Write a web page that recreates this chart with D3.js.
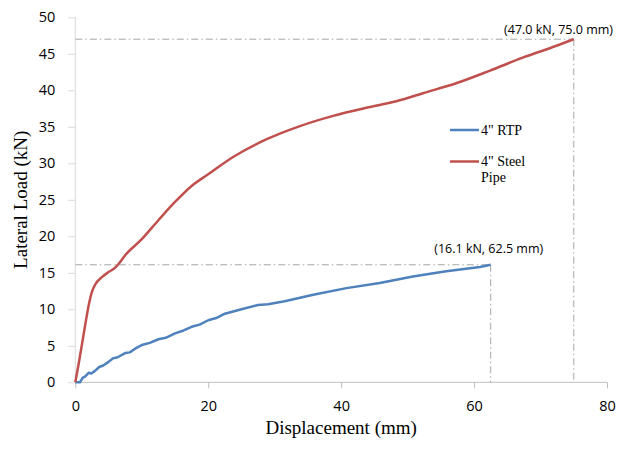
<!DOCTYPE html>
<html>
<head>
<meta charset="utf-8">
<script src="https://cdn.jsdelivr.net/npm/d3@7"></script>
<style>
  body { margin: 0; background: #fff; }
  .tick text { font-family: "Open Sans", sans-serif; font-size: 14.5px; fill: #000; }
</style>
</head>
<body>
<svg id="chart" width="618" height="450"></svg>
<script>
// displacement (mm) / load (kN)
var steelX = [0, 0.5, 1, 1.5, 2, 2.5, 3, 4, 5, 6, 6.5, 7.5, 10, 12.5, 15, 17.5, 20, 23.8, 28.8, 33.8, 38.8, 43.8, 48.3, 52.3, 57.4, 62.4, 67.4, 72.4, 75];
var steelY = [0, 2.5, 5.2, 7.9, 10.5, 12.4, 13.4, 14.4, 15.1, 15.7, 16.2, 17.4, 19.6, 22.2, 24.7, 26.9, 28.5, 30.9, 33.3, 35.1, 36.5, 37.6, 38.5, 39.6, 41.0, 42.7, 44.5, 46.1, 47.0];

var rtpX = [0, 0.7, 1.1, 1.5, 2.0, 2.4, 3.0, 3.6, 4.2, 5.0, 5.7, 6.3, 7.5, 8.2, 9.0, 10, 11.2, 12.5, 13.6, 15, 16.3, 17.5, 18.7, 20, 21.2, 22.5, 25, 27.5, 29, 31.5, 35.8, 40.8, 45.8, 50.8, 55.8, 60.9, 62.5];
var rtpY = [0, 0, 0.6, 0.8, 1.3, 1.2, 1.6, 2.1, 2.3, 2.8, 3.3, 3.4, 4.0, 4.1, 4.6, 5.1, 5.4, 5.9, 6.1, 6.7, 7.1, 7.6, 7.9, 8.5, 8.8, 9.4, 10.0, 10.6, 10.7, 11.1, 12.0, 12.9, 13.6, 14.5, 15.2, 15.8, 16.1];

var xTicks = [0, 20, 40, 60, 80];
var yTicks = [0, 5, 10, 15, 20, 25, 30, 35, 40, 45, 50];
var seriesNames = ['4" RTP', '4" Steel'];
var colors = ["#4f81bd", "#c0504d"];
var markers = [{x: 62.5, y: 16.1, label: "(16.1 kN, 62.5 mm)"}, {x: 75.0, y: 47.0, label: "(47.0 kN, 75.0 mm)"}];

var svg = d3.select("svg#chart");
var margin = {left: 75.3, right: 11, top: 17.3, bottom: 67.7};
var width = +svg.attr("width"), height = +svg.attr("height");

var x = d3.scaleLinear().domain([0, 80]).range([margin.left, width - margin.right]);
var y = d3.scaleLinear().domain([0, 50]).range([height - margin.bottom, margin.top]);

// axes
var gx = svg.append("g")
  .attr("transform", "translate(0," + y(0) + ")")
  .call(d3.axisBottom(x).tickValues(xTicks).tickSize(6).tickPadding(12));
var gy = svg.append("g")
  .attr("transform", "translate(" + x(0) + ",0)")
  .call(d3.axisLeft(y).tickValues(yTicks).tickSize(7).tickPadding(13));
gx.select(".domain").attr("stroke", "#bfbfbf");
gy.select(".domain").attr("stroke", "#d9d9d9");
gx.selectAll(".tick line").attr("stroke", "#bfbfbf");
gy.selectAll(".tick line").attr("stroke", "#d9d9d9");
gx.selectAll(".domain").attr("d", "M" + x(0) + ",0H" + x(80));
gy.selectAll(".domain").attr("d", "M0," + y(0) + "V" + y(50));

// guide lines to the end points
var dash = "7,3,1.5,3";
markers.forEach(function(m) {
  svg.append("line")
    .attr("x1", x(0)).attr("x2", x(m.x))
    .attr("y1", y(m.y)).attr("y2", y(m.y))
    .attr("stroke", "#a6a6a6").attr("stroke-dasharray", dash);
  svg.append("line")
    .attr("x1", x(m.x)).attr("x2", x(m.x))
    .attr("y1", y(m.y)).attr("y2", y(0))
    .attr("stroke", "#a6a6a6").attr("stroke-dasharray", dash);
});

var line = d3.line()
  .x(function(d) { return x(d[0]); })
  .y(function(d) { return y(d[1]); });

var rtp = rtpX.map(function(v, i) { return [v, rtpY[i]]; });
var steel = steelX.map(function(v, i) { return [v, steelY[i]]; });

svg.append("path").datum(rtp)
  .attr("fill", "none").attr("stroke", colors[0]).attr("stroke-width", 2.5)
  .attr("stroke-linejoin", "round")
  .attr("d", line);
svg.append("path").datum(steel)
  .attr("fill", "none").attr("stroke", colors[1]).attr("stroke-width", 2.5)
  .attr("d", line.curve(d3.curveMonotoneX));

// end point labels
svg.append("text")
  .attr("x", x(markers[0].x) - 2).attr("y", y(markers[0].y) - 12)
  .attr("text-anchor", "middle")
  .style("font-family", "Open Sans, sans-serif").style("font-size", "12.5px")
  .text(markers[0].label);
svg.append("text")
  .attr("x", width - 5).attr("y", y(markers[1].y) - 5)
  .attr("text-anchor", "end")
  .style("font-family", "Open Sans, sans-serif").style("font-size", "12.5px")
  .text(markers[1].label);

// legend
var lg = svg.append("g").attr("transform", "translate(450,130)");
seriesNames.forEach(function(n, i) {
  lg.append("line")
    .attr("x1", 0).attr("x2", 29).attr("y1", i * 31.5).attr("y2", i * 31.5)
    .attr("stroke", colors[i]).attr("stroke-width", 2.5);
  lg.append("text")
    .attr("x", 31).attr("y", i * 31.5 + 4.5)
    .style("font-family", "Liberation Serif, serif").style("font-size", "14px")
    .text(n);
});
lg.append("text")
  .attr("x", 31).attr("y", 31.5 + 20.5)
  .style("font-family", "Liberation Serif, serif").style("font-size", "14px")
  .text("Pipe");

// axis titles
svg.append("text")
  .attr("x", (x(0) + x(80)) / 2).attr("y", 434)
  .attr("text-anchor", "middle")
  .style("font-family", "Liberation Serif, serif").style("font-size", "19px")
  .text("Displacement (mm)");
svg.append("text")
  .attr("transform", "translate(27," + ((y(0) + y(50)) / 2) + ") rotate(-90)")
  .attr("text-anchor", "middle")
  .style("font-family", "Liberation Serif, serif").style("font-size", "19px")
  .text("Lateral Load (kN)");
</script>
</body>
</html>
